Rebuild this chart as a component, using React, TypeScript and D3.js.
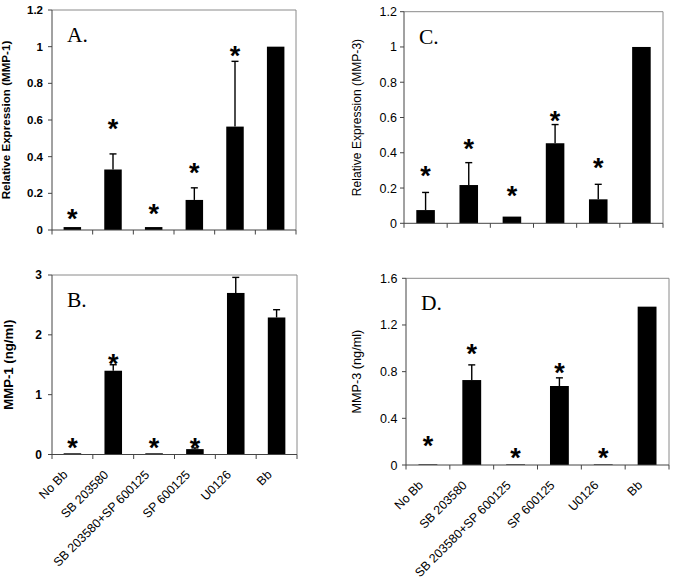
import React from "react";
import * as d3 from "d3";

const categories = ["No Bb", "SB 203580", "SB 203580+SP 600125", "SP 600125", "U0126", "Bb"];

// Panel A: relative expression MMP-1
const valuesA = [0.016, 0.33, 0.016, 0.164, 0.564, 1.0];
const errA = [0, 0.085, 0, 0.066, 0.356, 0];
const starsA = [0.093, 0.584, 0.12, 0.344, 0.982, null];
const ticksA = [0, 0.2, 0.4, 0.6, 0.8, 1, 1.2];

// Panel B: MMP-1 (ng/ml)
const valuesB = [0.02, 1.4, 0.02, 0.09, 2.7, 2.29];
const errB = [0, 0.1, 0, 0.02, 0.26, 0.13];
const starsB = [0.214, 1.62, 0.214, 0.214, null, null];
const ticksB = [0, 1, 2, 3];

// Panel C: relative expression MMP-3
const valuesC = [0.075, 0.217, 0.038, 0.454, 0.136, 1.0];
const errC = [0.1, 0.127, 0, 0.106, 0.085, 0];
const starsC = [0.302, 0.457, 0.189, 0.614, 0.349, null];
const ticksC = [0, 0.2, 0.4, 0.6, 0.8, 1, 1.2];

// Panel D: MMP-3 (ng/ml)
const valuesD = [0.005, 0.728, 0.005, 0.677, 0.005, 1.357];
const errD = [0, 0.13, 0, 0.07, 0, 0];
const starsD = [0.214, 1.0, 0.114, 0.842, 0.114, null];
const ticksD = [0, 0.4, 0.8, 1.2, 1.6];

const SANS = "'Liberation Sans', Arial, sans-serif";
const SERIF = "'Liberation Serif', 'Times New Roman', serif";

type PanelProps = {
  x0: number; x1: number; yTop: number; yBottom: number; max: number;
  values: number[]; err: number[]; stars: (number | null)[]; ticks: number[];
  letter: string; title: string; bold: boolean; tickFont: number; tickGap: number;
  titleX: number; titleFont: number; showLabels: boolean;
};

function Panel(p: PanelProps) {
  const x = d3.scaleBand<string>().domain(categories).range([p.x0, p.x1]).paddingInner(0.57).paddingOuter(0.285);
  const y = d3.scaleLinear().domain([0, p.max]).range([p.yBottom, p.yTop]);
  const step = x.step();
  const bw = x.bandwidth();
  const weight = p.bold ? "bold" : "normal";
  const titleY = (p.yTop + p.yBottom) / 2;
  return (
    <g>
      {/* box */}
      <line x1={p.x0} x2={p.x1} y1={p.yTop} y2={p.yTop} stroke="#8a8a8a" strokeWidth={1} />
      <line x1={p.x1} x2={p.x1} y1={p.yTop} y2={p.yBottom} stroke="#8a8a8a" strokeWidth={1} />
      {/* bars */}
      {categories.map((c, i) => (
        <rect key={c} x={x(c)} y={y(p.values[i])} width={bw} height={p.yBottom - y(p.values[i])} fill="#000" />
      ))}
      {/* error bars */}
      {categories.map((c, i) => {
        if (!p.err[i]) return null;
        const cx = (x(c) as number) + bw / 2;
        const top = y(p.values[i] + p.err[i]);
        return (
          <g key={"e" + c}>
            <line x1={cx} x2={cx} y1={y(p.values[i])} y2={top} stroke="#000" strokeWidth={1.4} />
            <line x1={cx - 3.5} x2={cx + 3.5} y1={top} y2={top} stroke="#000" strokeWidth={1.4} />
          </g>
        );
      })}
      {/* stars */}
      {categories.map((c, i) => {
        const s = p.stars[i];
        if (s == null) return null;
        const cx = (x(c) as number) + bw / 2;
        return (
          <text key={"s" + c} x={cx} y={y(s) + 15} textAnchor="middle" fontFamily={SANS} fontWeight="bold" fontSize={27} fill="#000">*</text>
        );
      })}
      {/* axes */}
      <line x1={p.x0} x2={p.x0} y1={p.yTop} y2={p.yBottom} stroke="#444" strokeWidth={1} />
      <line x1={p.x0} x2={p.x1} y1={p.yBottom} y2={p.yBottom} stroke="#444" strokeWidth={1} />
      {p.ticks.map((t) => (
        <g key={"t" + t}>
          <line x1={p.x0 - 4} x2={p.x0} y1={y(t)} y2={y(t)} stroke="#444" strokeWidth={1} />
          <text x={p.x0 - p.tickGap} y={y(t)} dy="0.36em" textAnchor="end" fontFamily={SANS} fontWeight={weight} fontSize={p.tickFont} fill="#000">{t}</text>
        </g>
      ))}
      {d3.range(categories.length + 1).map((i) => (
        <line key={"xt" + i} x1={p.x0 + i * step} x2={p.x0 + i * step} y1={p.yBottom} y2={p.yBottom + 4.5} stroke="#444" strokeWidth={1} />
      ))}
      {/* title */}
      <text transform={`translate(${p.titleX},${titleY}) rotate(-90)`} textAnchor="middle" fontFamily={SANS} fontWeight={weight} fontSize={p.titleFont} fill="#000">{p.title}</text>
      {/* letter */}
      <text x={p.x0 + 15} y={p.yTop + 32} fontFamily={SERIF} fontSize={21.5} fill="#000">{p.letter}</text>
      {/* category labels */}
      {p.showLabels && categories.map((c) => {
        const cx = (x(c) as number) + bw / 2;
        return (
          <text key={"l" + c} transform={`translate(${cx - 4},${p.yBottom + 21}) rotate(-45)`} textAnchor="end" fontFamily={SANS} fontSize={12.4} fill="#000">{c}</text>
        );
      })}
    </g>
  );
}

export default function App() {
  return (
    <svg width={674} height={581} style={{ position: "absolute", left: 0, top: 0, background: "#fff" }}>
      <rect x={0} y={0} width={674} height={581} fill="#fff" />
      <Panel x0={52} x1={296} yTop={10} yBottom={230} max={1.2} values={valuesA} err={errA} stars={starsA} ticks={ticksA}
        letter="A." title="Relative Expression (MMP-1)" bold={true} tickFont={11.5} tickGap={9} titleX={9.5} titleFont={11.6} showLabels={false} />
      <Panel x0={52} x1={297} yTop={275} yBottom={454.5} max={3} values={valuesB} err={errB} stars={starsB} ticks={ticksB}
        letter="B." title="MMP-1 (ng/ml)" bold={true} tickFont={12} tickGap={10} titleX={12.5} titleFont={13.2} showLabels={true} />
      <Panel x0={404} x1={663} yTop={11.7} yBottom={223.3} max={1.2} values={valuesC} err={errC} stars={starsC} ticks={ticksC}
        letter="C." title="Relative Expression (MMP-3)" bold={false} tickFont={12.5} tickGap={7} titleX={361} titleFont={12.1} showLabels={false} />
      <Panel x0={406} x1={669} yTop={278.3} yBottom={465} max={1.6} values={valuesD} err={errD} stars={starsD} ticks={ticksD}
        letter="D." title="MMP-3 (ng/ml)" bold={false} tickFont={12.5} tickGap={8.5} titleX={360.5} titleFont={12.7} showLabels={true} />
    </svg>
  );
}
